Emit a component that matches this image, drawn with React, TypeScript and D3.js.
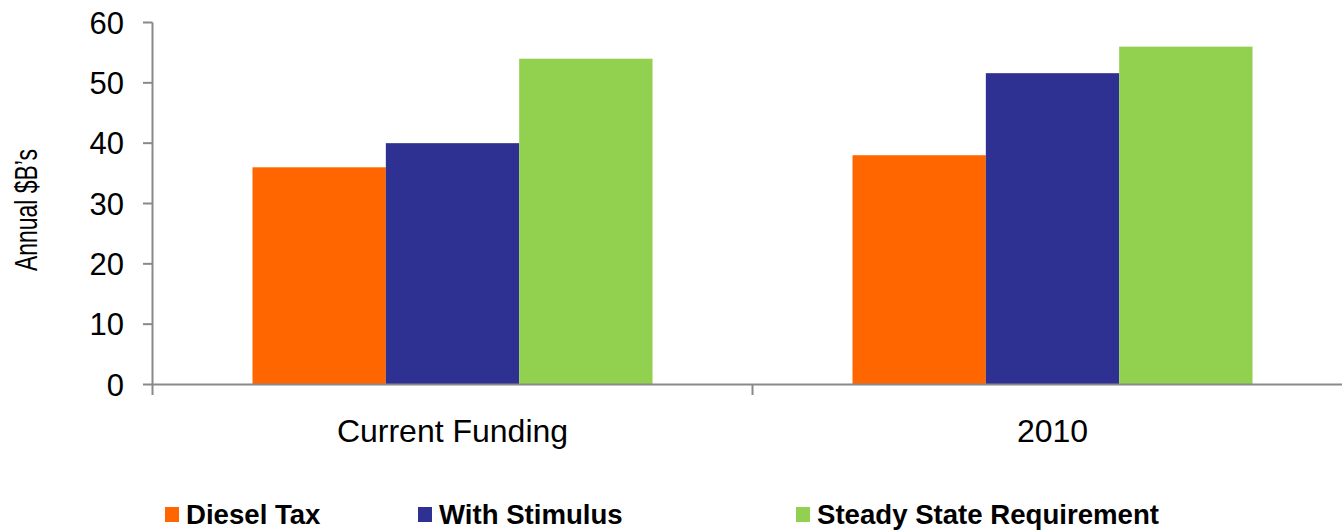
import React from "react";
import * as d3 from "d3";

const categories = ["Current Funding", "2010"];
const seriesNames = ["Diesel Tax", "With Stimulus", "Steady State Requirement"];
const dieselTax = [36, 38];
const withStimulus = [40, 51.6];
const steadyState = [54, 56];
const yTicks = [0, 10, 20, 30, 40, 50, 60];
const colors = ["#FF6600", "#2E3092", "#92D050"];

const W = 1342;
const H = 532;
const FONT = "'Liberation Sans', Arial, sans-serif";
const AXIS = "#898989";

export default function App() {
  const values = [dieselTax, withStimulus, steadyState];
  const y = d3.scaleLinear().domain([0, 60]).range([384.5, 22.5]);
  const x0 = d3.scaleBand<string>().domain(categories).range([152.5, 1352.5]).padding(0);
  const x1 = d3
    .scaleBand<string>()
    .domain(seriesNames)
    .range([0, x0.bandwidth()])
    .paddingInner(0)
    .paddingOuter(0.75);

  const legendX = [165, 418, 796];

  return (
    <svg
      width={W}
      height={H}
      style={{ position: "absolute", left: 0, top: 0, display: "block", background: "#fff" }}
    >
      {/* bars */}
      {categories.map((c, ci) => (
        <g key={c} transform={`translate(${x0(c)},0)`}>
          {seriesNames.map((s, si) => (
            <rect
              key={s}
              x={x1(s)}
              y={y(values[si][ci])}
              width={x1.bandwidth()}
              height={y(0) - y(values[si][ci])}
              fill={colors[si]}
            />
          ))}
        </g>
      ))}

      {/* y axis */}
      <line x1={152.5} x2={152.5} y1={y(60)} y2={395} stroke={AXIS} strokeWidth={2} />
      {yTicks.map((t) => (
        <g key={t}>
          <line x1={143} x2={152.5} y1={y(t)} y2={y(t)} stroke={AXIS} strokeWidth={2} />
          <text
            x={124}
            y={y(t)}
            dy="0.36em"
            textAnchor="end"
            fontFamily={FONT}
            fontSize={31}
            fill="#000"
          >
            {t}
          </text>
        </g>
      ))}

      {/* x axis */}
      <line x1={152.5} x2={W} y1={y(0)} y2={y(0)} stroke={AXIS} strokeWidth={2} />
      {categories.slice(1).map((c) => (
        <line key={c} x1={x0(c)} x2={x0(c)} y1={y(0)} y2={395} stroke={AXIS} strokeWidth={2} />
      ))}
      {categories.map((c) => (
        <text
          key={c}
          x={(x0(c) as number) + x0.bandwidth() / 2}
          y={442}
          textAnchor="middle"
          fontFamily={FONT}
          fontSize={32}
          fill="#000"
        >
          {c}
        </text>
      ))}

      {/* y axis title */}
      <text
        transform="translate(36.5,210) rotate(-90)"
        textAnchor="middle"
        fontFamily={FONT}
        fontSize={32}
        textLength={122}
        lengthAdjust="spacingAndGlyphs"
        fill="#000"
      >
        Annual $B’s
      </text>

      {/* legend */}
      {seriesNames.map((s, i) => (
        <g key={s}>
          <rect x={legendX[i]} y={507} width={14} height={15} fill={colors[i]} />
          <text
            x={legendX[i] + 21}
            y={523.5}
            fontFamily={FONT}
            fontSize={27.6}
            fontWeight="bold"
            fill="#000"
          >
            {s}
          </text>
        </g>
      ))}
    </svg>
  );
}
